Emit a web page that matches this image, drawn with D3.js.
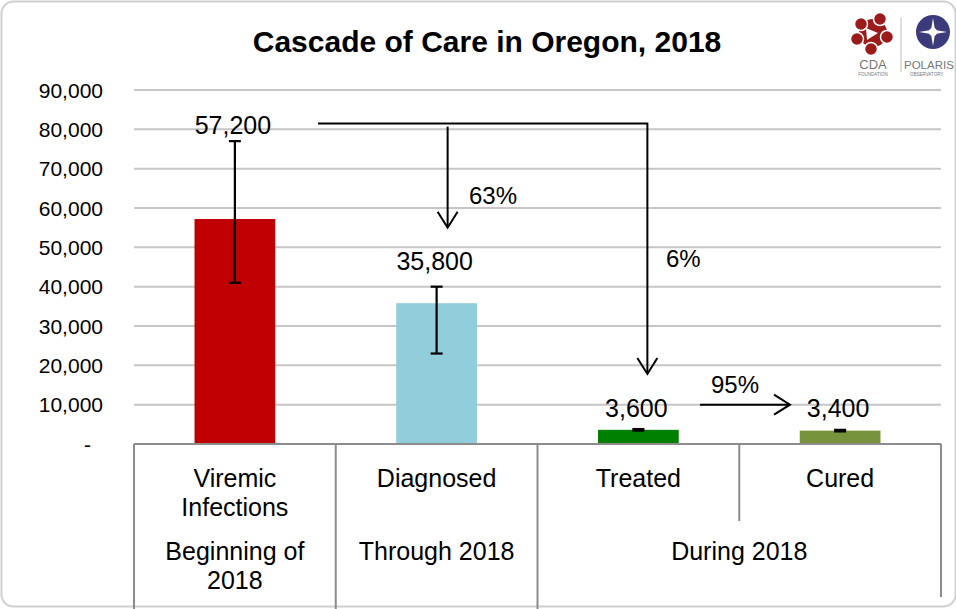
<!DOCTYPE html>
<html>
<head>
<meta charset="utf-8">
<script src="https://cdn.jsdelivr.net/npm/d3@7"></script>
<style>
  body { margin: 0; background: #fff; }
  text { font-family: "Liberation Sans", Arial, sans-serif; fill: #000; }
</style>
</head>
<body>
<svg id="chart" width="956" height="609"></svg>
<script>
// chart values
var categories = ["Viremic Infections", "Diagnosed", "Treated", "Cured"],
	catLines = [["Viremic", "Infections"], ["Diagnosed"], ["Treated"], ["Cured"]],
	values = [57200, 35800, 3600, 3400],
	errLow = [41000, 23000, 3400, 3200],
	errHigh = [77000, 40000, 3800, 3600],
	yTicks = [0, 10000, 20000, 30000, 40000, 50000, 60000, 70000, 80000, 90000];

var periods = [
	{lines: ["Beginning of", "2018"], first: 0, last: 0},
	{lines: ["Through 2018"], first: 1, last: 1},
	{lines: ["During 2018"], first: 2, last: 3}
];

var pctLabels = ["63%", "6%", "95%"];

// styling
var barColors = ["#C00000", "#92CDDC", "#008000", "#77933C"],
	labelGap = [7, 17, 12, 13];

var svg = d3.select("#chart"),
	margin = {top: 90, left: 134, right: 15, bottom: 165},
	width = 956 - margin.left - margin.right,
	height = 609 - margin.top - margin.bottom;

var numberFormat = d3.format(",");

// border
svg.append("rect")
	.attr("x", 1.5).attr("y", 1.5)
	.attr("width", 954).attr("height", 605)
	.attr("rx", 12)
	.attr("fill", "#fff")
	.attr("stroke", "#d0d0d0")
	.attr("stroke-width", 2);

svg.append("text")
	.attr("x", 487).attr("y", 52)
	.attr("text-anchor", "middle")
	.style("font-size", "30px")
	.style("font-weight", "bold")
	.text("Cascade of Care in Oregon, 2018");

var x = d3.scaleBand().domain(categories).range([margin.left, margin.left + width]);
var y = d3.scaleLinear().domain([0, 90000]).range([margin.top + height, margin.top]);

var barW = x.bandwidth() * 0.4;
function cx(i) { return x(categories[i]) + x.bandwidth() / 2; }

// gridlines
svg.append("g").selectAll("line")
	.data(yTicks.slice(1))
	.enter().append("line")
	.attr("x1", margin.left).attr("x2", margin.left + width)
	.attr("y1", d => y(d)).attr("y2", d => y(d))
	.attr("stroke", "#c6c6c6")
	.attr("stroke-width", 2);

// y axis labels
svg.append("g").selectAll("text")
	.data(yTicks)
	.enter().append("text")
	.attr("x", d => d === 0 ? 91 : 103)
	.attr("y", d => y(d))
	.attr("dy", "0.36em")
	.attr("text-anchor", "end")
	.style("font-size", "21px")
	.text(d => d === 0 ? "-" : numberFormat(d));

// bars
svg.append("g").selectAll("rect")
	.data(values)
	.enter().append("rect")
	.attr("x", (d, i) => cx(i) - barW / 2)
	.attr("width", barW)
	.attr("y", d => y(d))
	.attr("height", d => y(0) - y(d))
	.attr("fill", (d, i) => barColors[i]);

// error bars
var err = svg.append("g").attr("stroke", "#000").attr("stroke-width", 2.2);
values.forEach(function(v, i) {
	err.append("line")
		.attr("x1", cx(i)).attr("x2", cx(i))
		.attr("y1", y(errHigh[i])).attr("y2", y(errLow[i]));
	[errHigh[i], errLow[i]].forEach(function(e) {
		err.append("line")
			.attr("x1", cx(i) - 6).attr("x2", cx(i) + 6)
			.attr("y1", y(e)).attr("y2", y(e));
	});
});

// value labels
svg.append("g").selectAll("text")
	.data(values)
	.enter().append("text")
	.attr("x", (d, i) => cx(i) - 2)
	.attr("y", (d, i) => y(errHigh[i]) - labelGap[i])
	.attr("text-anchor", "middle")
	.style("font-size", "25px")
	.text(d => numberFormat(d));

// category table
var baseY = y(0);
var tbl = svg.append("g").attr("stroke", "#8c8c8c").attr("stroke-width", 2);
tbl.append("line")
	.attr("x1", margin.left).attr("x2", margin.left + width)
	.attr("y1", baseY).attr("y2", baseY);
categories.forEach(function(c, i) {
	var isGroupEdge = periods.some(p => p.first === i);
	tbl.append("line")
		.attr("x1", x(c)).attr("x2", x(c))
		.attr("y1", baseY).attr("y2", isGroupEdge ? 609 : 521);
});
tbl.append("line")
	.attr("x1", margin.left + width).attr("x2", margin.left + width)
	.attr("y1", baseY).attr("y2", 597);

svg.append("g").selectAll("text")
	.data(catLines)
	.enter().append("text")
	.attr("text-anchor", "middle")
	.style("font-size", "25px")
	.each(function(lines, i) {
		d3.select(this).selectAll("tspan")
			.data(lines)
			.enter().append("tspan")
			.attr("x", cx(i))
			.attr("y", (d, j) => 487 + j * 29)
			.text(d => d);
	});

svg.append("g").selectAll("text")
	.data(periods)
	.enter().append("text")
	.attr("text-anchor", "middle")
	.style("font-size", "25px")
	.each(function(p) {
		var mid = (x(categories[p.first]) + x(categories[p.last]) + x.bandwidth()) / 2;
		d3.select(this).selectAll("tspan")
			.data(p.lines)
			.enter().append("tspan")
			.attr("x", mid)
			.attr("y", (d, j) => 560 + j * 29)
			.text(d => d);
	});

// arrows
function arrowHead(g, px, py, dir) {
	var s = 10, l = 16, pts;
	if (dir === "down") pts = [[px - s, py - l], [px, py], [px + s, py - l]];
	else pts = [[px - l, py - s], [px, py], [px - l, py + s]];
	g.append("path").attr("d", d3.line()(pts)).attr("fill", "none");
}
var arr = svg.append("g").attr("stroke", "#000").attr("stroke-width", 2).attr("fill", "none");

// viremic -> treated
var topY = y(81500);
arr.append("path").attr("d", d3.line()([[318, topY], [cx(2) + 9, topY], [cx(2) + 9, y(17800)]]));
arrowHead(arr, cx(2) + 9, y(17800), "down");
// viremic -> diagnosed
arr.append("path").attr("d", d3.line()([[cx(1) + 11, y(80700)], [cx(1) + 11, y(55000)]]));
arrowHead(arr, cx(1) + 11, y(55000), "down");
// treated -> cured
arr.append("path").attr("d", d3.line()([[700, y(10000)], [790, y(10000)]]));
arrowHead(arr, 790, y(10000), "right");

svg.append("text").attr("x", 469).attr("y", 204).style("font-size", "24px").text(pctLabels[0]);
svg.append("text").attr("x", 666).attr("y", 267).style("font-size", "24px").text(pctLabels[1]);
svg.append("text").attr("x", 711).attr("y", 393).style("font-size", "24px").text(pctLabels[2]);

// logos
var logo = svg.append("g");
var cdaDots = [[-12, -9], [7, -14], [14, 4], [-2, 16], [-16, 6]];
logo.append("circle").attr("cx", 873).attr("cy", 33).attr("r", 14).attr("fill", "#9b1b1b");
logo.selectAll(".dot").data(cdaDots).enter().append("circle")
	.attr("cx", d => 873 + d[0]).attr("cy", d => 33 + d[1]).attr("r", 6.5)
	.attr("fill", "#9b1b1b").attr("stroke", "#fff").attr("stroke-width", 1.5);
logo.append("path").attr("d", "M866,28 L878,33 L867,40 Z").attr("fill", "#fff");
logo.append("text").attr("x", 873).attr("y", 69).attr("text-anchor", "middle")
	.style("font-size", "13px").style("fill", "#777").text("CDA");
logo.append("text").attr("x", 873).attr("y", 76).attr("text-anchor", "middle")
	.style("font-size", "4.5px").style("fill", "#777").text("FOUNDATION");
logo.append("line").attr("x1", 901).attr("x2", 901).attr("y1", 18).attr("y2", 72)
	.attr("stroke", "#bbb").attr("stroke-width", 1);
logo.append("circle").attr("cx", 933).attr("cy", 32).attr("r", 17).attr("fill", "#3b3a7a");
logo.append("path")
	.attr("d", "M933,18 L935,30 L947,32 L935,34 L933,46 L931,34 L919,32 L931,30 Z")
	.attr("fill", "#fff");
logo.append("circle").attr("cx", 933).attr("cy", 32).attr("r", 4).attr("fill", "#fff");
logo.append("text").attr("x", 904).attr("y", 69)
	.style("font-size", "11.5px").style("fill", "#777").text("POLARIS");
logo.append("text").attr("x", 910).attr("y", 76)
	.style("font-size", "4.5px").style("fill", "#777").text("OBSERVATORY");
</script>
</body>
</html>
